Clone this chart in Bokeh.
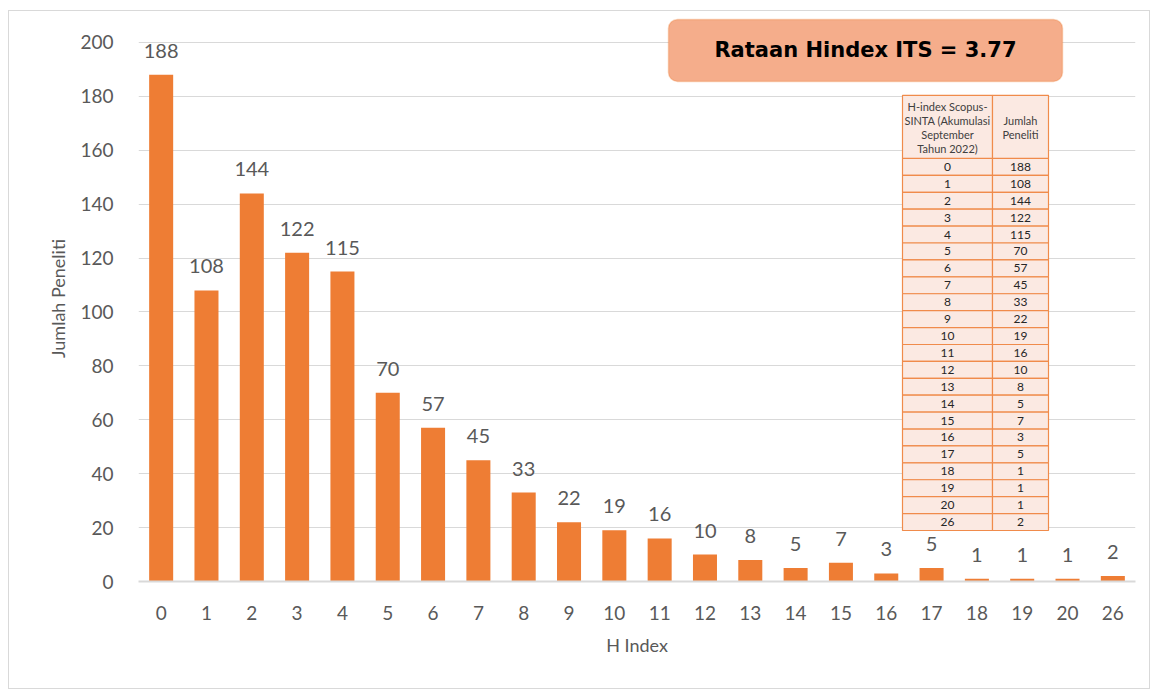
from bokeh.plotting import figure
from bokeh.models import ColumnDataSource, FixedTicker, BoxAnnotation, Label
from bokeh.core.properties import value
from bokeh.embed import file_html
from bokeh.resources import INLINE

# ---- data ----
h_index = ["0", "1", "2", "3", "4", "5", "6", "7", "8", "9", "10", "11", "12",
           "13", "14", "15", "16", "17", "18", "19", "20", "26"]
jumlah = [188, 108, 144, 122, 115, 70, 57, 45, 33, 22, 19, 16, 10, 8, 5, 7, 3, 5, 1, 1, 1, 2]
y_ticks = [0, 20, 40, 60, 80, 100, 120, 140, 160, 180, 200]
title_text = "Rataan Hindex ITS = 3.77"
table_header_left = ["H-index Scopus-", "SINTA (Akumulasi", "September", "Tahun 2022)"]
table_header_right = ["Jumlah", "Peneliti"]

FONT = "Lato"
GREY = "#595959"

# ---- geometry (page pixels -> data coords) ----
FRAME_L, FRAME_R, FRAME_B = 138, 1135, 581
SPX = (FRAME_R - FRAME_L) / len(h_index)
SPY = 2.695
Y_END = 210


def X(px):
    return (px - FRAME_L) / SPX


def Y(py):
    return (FRAME_B - py) / SPY


p = figure(x_range=h_index, y_range=(0, Y_END), width=1142, height=679,
           output_backend="svg", toolbar_location=None,
           min_border_left=129, min_border_right=16, min_border_top=4, min_border_bottom=109)
p.styles = {"border": "1px solid #d9d9d9", "margin-left": "8px", "margin-top": "10px"}
p.outline_line_color = None
p.x_range.range_padding = 0
p.background_fill_color = "white"
p.border_fill_color = "white"

src = ColumnDataSource(dict(x=h_index, top=jumlah, lbl=[str(v) for v in jumlah]))
p.vbar(x="x", top="top", width=0.53, source=src, fill_color="#EE7D34", line_color=None)
p.text(x="x", y="top", text="lbl", source=src, text_align="center", text_baseline="middle",
       y_offset=-24, text_font=value(FONT), text_font_size="20px", text_color=GREY)

# axes
p.yaxis.ticker = FixedTicker(ticks=y_ticks)
p.yaxis.axis_line_color = None
p.yaxis.major_tick_line_color = None
p.yaxis.minor_tick_line_color = None
p.yaxis.major_label_standoff = 19
p.yaxis.major_label_text_font = FONT
p.yaxis.major_label_text_font_size = "19px"
p.yaxis.major_label_text_color = GREY
p.yaxis.axis_label = "Jumlah Peneliti"
p.yaxis.axis_label_text_font = FONT
p.yaxis.axis_label_text_font_size = "18px"
p.yaxis.axis_label_text_font_style = "normal"
p.yaxis.axis_label_text_color = GREY
p.yaxis.axis_label_standoff = 8

p.xaxis.axis_line_color = "#d9d9d9"
p.xaxis.axis_line_width = 2
p.xaxis.major_tick_line_color = None
p.xaxis.minor_tick_line_color = None
p.xaxis.major_label_standoff = 18
p.xaxis.major_label_text_font = FONT
p.xaxis.major_label_text_font_size = "19px"
p.xaxis.major_label_text_color = GREY
p.xaxis.axis_label = "H Index"
p.xaxis.axis_label_text_font = FONT
p.xaxis.axis_label_text_font_size = "18px"
p.xaxis.axis_label_text_font_style = "normal"
p.xaxis.axis_label_text_color = GREY
p.xaxis.axis_label_standoff = 11

p.xgrid.grid_line_color = None
p.ygrid.grid_line_color = "#d9d9d9"
p.ygrid.grid_line_width = 1

# title box
p.add_layout(BoxAnnotation(left=X(668), right=X(1062), top=Y(19), bottom=Y(81),
                           fill_color="#F5AD8B", fill_alpha=1.0, line_color="#ED7D31",
                           line_width=1.5, border_radius=9, level="annotation"))
p.add_layout(Label(x=(X(668) + X(1062)) / 2, y=(Y(19) + Y(81)) / 2, text=title_text,
                   text_align="center", text_baseline="middle", text_font="DejaVu Sans",
                   text_font_style="bold", text_font_size="21px", text_color="black",
                   level="overlay"))

# table
TL, TM, TR = 902, 992, 1048
HT, HB = 95, 158
RH = (530 - HB) / len(h_index)
tx_l, tx_r, ty_t, ty_b = [], [], [], []
for i in range(len(h_index)):
    top = HB + i * RH
    for a, b in ((TL, TM), (TM, TR)):
        tx_l.append(X(a)); tx_r.append(X(b)); ty_t.append(Y(top)); ty_b.append(Y(top + RH))
for a, b in ((TL, TM), (TM, TR)):
    tx_l.append(X(a)); tx_r.append(X(b)); ty_t.append(Y(HT)); ty_b.append(Y(HB))
p.quad(left=tx_l, right=tx_r, top=ty_t, bottom=ty_b, fill_color="#FBE9E2",
       line_color="#F08B4B", line_width=1.2)

row_y = [Y(HB + (i + 0.5) * RH) for i in range(len(h_index))]
p.text(x=[X((TL + TM) / 2)] * len(h_index), y=row_y, text=h_index, text_align="center",
       text_baseline="middle", text_font=value(FONT), text_font_size="12px", text_color="#262626")
p.text(x=[X((TM + TR) / 2)] * len(h_index), y=row_y, text=[str(v) for v in jumlah],
       text_align="center", text_baseline="middle", text_font=value(FONT),
       text_font_size="12px", text_color="#262626")
hl_y = [Y(106 + i * 14) for i in range(len(table_header_left))]
p.text(x=[X((TL + TM) / 2)] * len(hl_y), y=hl_y, text=table_header_left, text_align="center",
       text_baseline="middle", text_font=value(FONT), text_font_size="11px", text_color="#404040")
hr_y = [Y(120 + i * 14) for i in range(len(table_header_right))]
p.text(x=[X((TM + TR) / 2)] * len(hr_y), y=hr_y, text=table_header_right, text_align="center",
       text_baseline="middle", text_font=value(FONT), text_font_size="11px", text_color="#404040")

open("out.html", "w").write(file_html(p, INLINE))
